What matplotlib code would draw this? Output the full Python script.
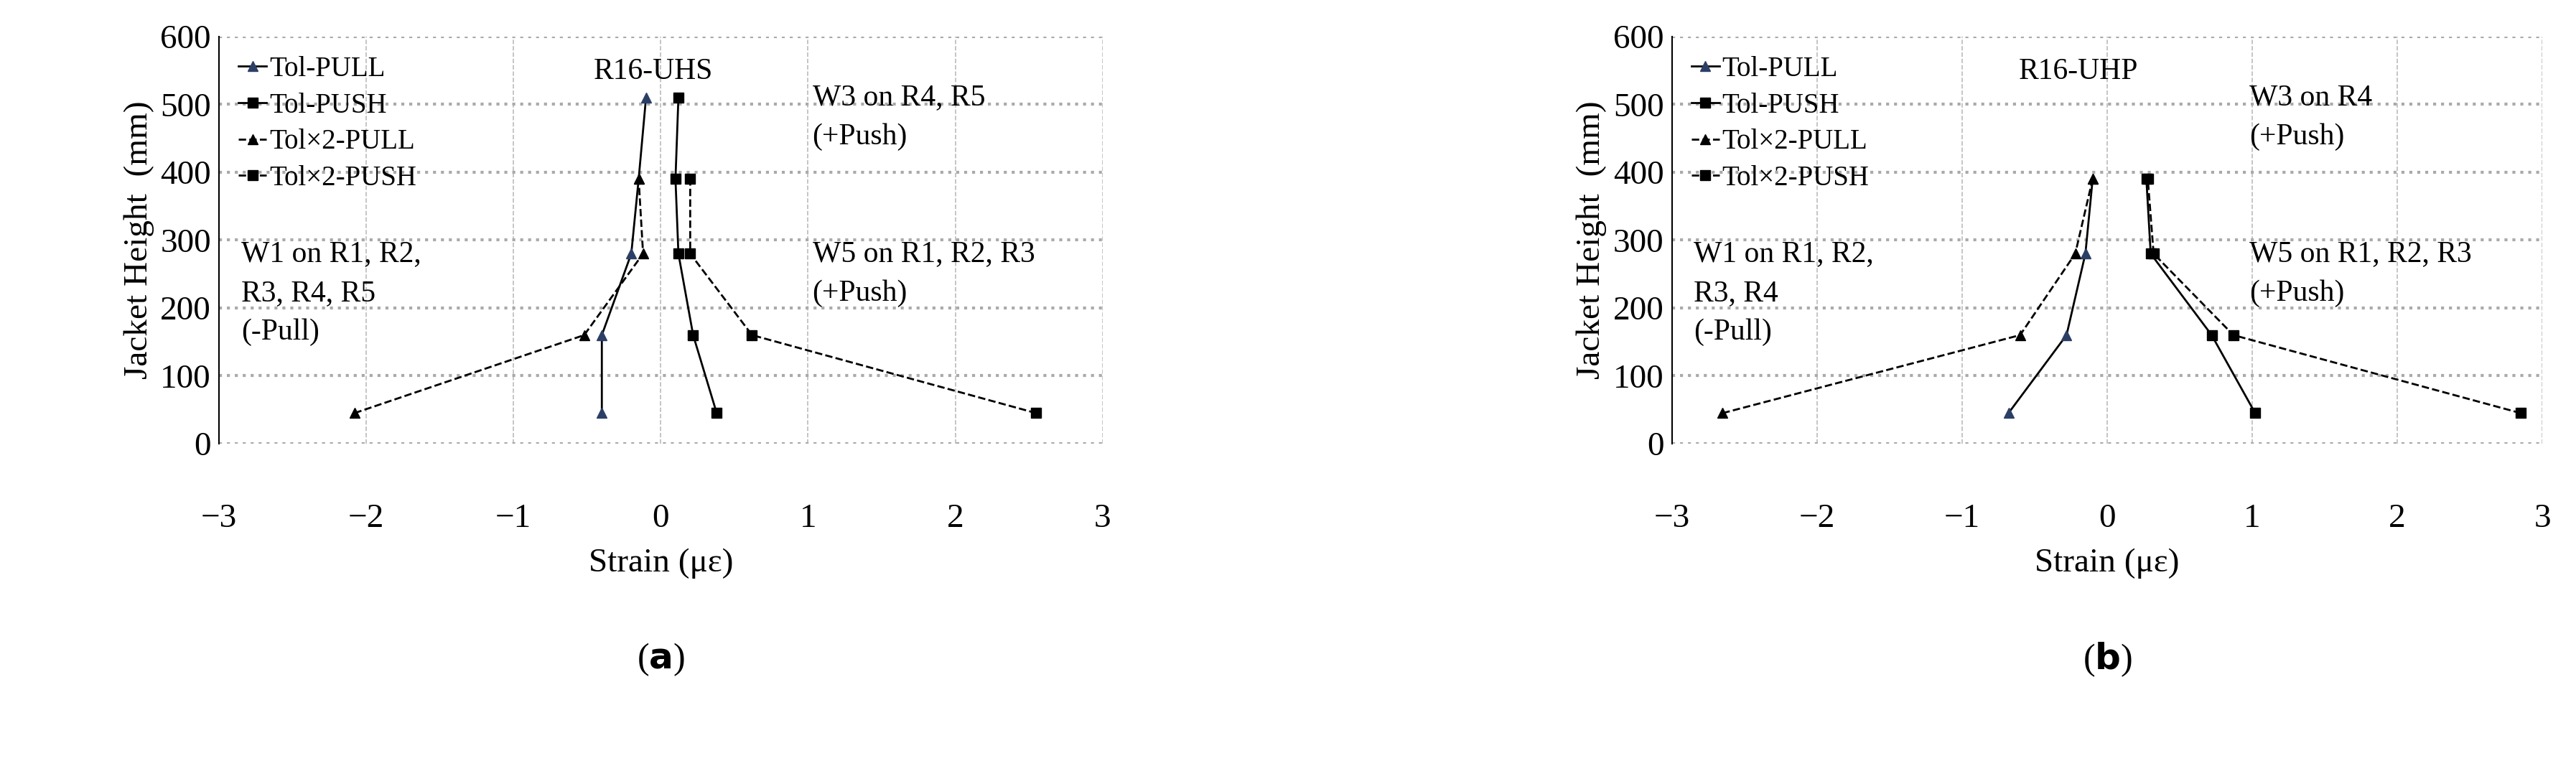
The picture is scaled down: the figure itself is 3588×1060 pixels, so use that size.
import matplotlib
matplotlib.use("Agg")
import matplotlib.pyplot as plt

heights = [45, 160, 280, 390, 510]
heights4 = [45, 160, 280, 390]

a_tol_pull = [-0.40, -0.40, -0.20, -0.15, -0.10]
a_tol_push = [0.38, 0.22, 0.12, 0.10, 0.12]
a_tol2_pull = [-2.08, -0.52, -0.12, -0.15]
a_tol2_push = [2.55, 0.62, 0.20, 0.20]

b_tol_pull = [-0.68, -0.28, -0.15, -0.10]
b_tol_push = [1.02, 0.72, 0.30, 0.27]
b_tol2_pull = [-2.65, -0.60, -0.22, -0.10]
b_tol2_push = [2.85, 0.87, 0.32, 0.28]

xticks = [-3, -2, -1, 0, 1, 2, 3]
yticks = [0, 100, 200, 300, 400, 500, 600]

plt.rcParams['font.family'] = ['Liberation Serif', 'DejaVu Serif']
FS = 34

fig = plt.figure(figsize=(35.88, 10.6), dpi=100)
axa = fig.add_axes([0.085, 0.417, 0.343, 0.535])
axb = fig.add_axes([0.649, 0.417, 0.338, 0.535])

def setup(ax, pull, push, pull2, push2, hp, title, tx, w1, w1x, w3, w3x, label):
    l1, = ax.plot(pull, hp, '-', color='black', lw=2, marker='^', ms=10,
                  mfc='#2b3f66', mec='#2b3f66', label='Tol-PULL')
    l2, = ax.plot(push, hp, '-', color='black', lw=2, marker='s', ms=10,
                  mfc='black', mec='black', label='Tol-PUSH')
    l3, = ax.plot(pull2, heights4, '--', color='black', lw=2, marker='^', ms=10,
                  mfc='black', mec='black', label='Tol×2-PULL')
    l4, = ax.plot(push2, heights4, '--', color='black', lw=2, marker='s', ms=10,
                  mfc='black', mec='black', label='Tol×2-PUSH')
    ax.set_xlim(-3, 3)
    ax.set_ylim(0, 600)
    ax.set_xticks(xticks)
    ax.set_yticks(yticks)
    ax.tick_params(axis='x', length=0, pad=60, labelsize=FS)
    ax.tick_params(axis='y', length=0, pad=8, labelsize=FS)
    ax.grid(axis='y', color='#aaaaaa', ls=':', lw=3)
    ax.grid(axis='x', color='#bbbbbb', ls='--', lw=1.2)
    for s in ['top', 'right', 'bottom']:
        ax.spines[s].set_visible(False)
    ax.spines['left'].set_linewidth(1.5)
    ax.set_ylabel('Jacket Height  (mm)', fontsize=FS, labelpad=6)
    ax.set_xlabel('Strain (με)', fontsize=FS, labelpad=14)
    ax.text(tx, 548, title, fontsize=FS - 4, ha='center', va='center')
    ax.text(w1x, 300, w1, fontsize=FS - 4, ha='left', va='top', linespacing=1.55)
    ax.text(w3x, 530, w3, fontsize=FS - 4, ha='left', va='top', linespacing=1.55)
    ax.text(w3x, 300, 'W5 on R1, R2, R3\n(+Push)', fontsize=FS - 4, ha='left',
            va='top', linespacing=1.55)
    ax.legend(handles=[l1, l2, l3, l4], loc='upper left', bbox_to_anchor=(0.0, 1.0),
              frameon=False, fontsize=FS - 6, handlelength=1.0, handletextpad=0.1,
              labelspacing=0.35, borderaxespad=0.3)
    ax.text(0.5, -0.53, r'($\mathbf{' + label + r'}$)', transform=ax.transAxes,
            fontsize=FS + 2, ha='center', va='center')

setup(axa, a_tol_pull, a_tol_push, a_tol2_pull, a_tol2_push, heights,
      'R16-UHS', -0.05, 'W1 on R1, R2,\nR3, R4, R5\n(-Pull)', -2.85,
      'W3 on R4, R5\n(+Push)', 1.03, 'a')
setup(axb, b_tol_pull, b_tol_push, b_tol2_pull, b_tol2_push, heights4,
      'R16-UHP', -0.2, 'W1 on R1, R2,\nR3, R4\n(-Pull)', -2.85,
      'W3 on R4\n(+Push)', 0.98, 'b')

fig.savefig('out.png', dpi=100)
